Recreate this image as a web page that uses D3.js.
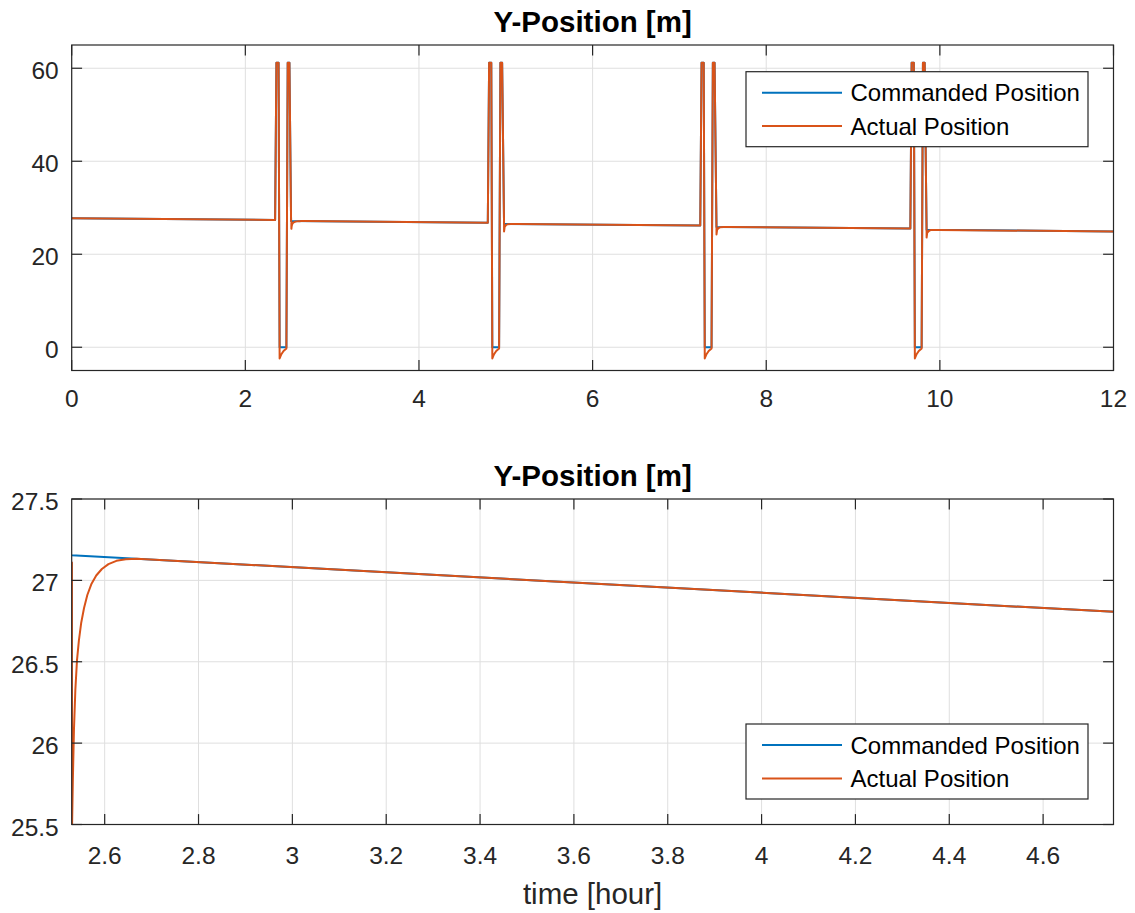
<!DOCTYPE html>
<html>
<head>
<meta charset="utf-8">
<script src="https://cdn.jsdelivr.net/npm/d3@7"></script>
<style>
  html, body { margin: 0; padding: 0; background: #fff; }
  svg { display: block; }
  text { font-family: "Liberation Sans", Arial, Helvetica, sans-serif; }
</style>
</head>
<body>
<svg id="chart" width="1135" height="913"></svg>
<script>
// Commanded Y position [m] vs time [hour]
const timeCmd = [0, 2.343, 2.358, 2.383, 2.395, 2.473, 2.488, 2.508, 2.527, 2.5297,
  4.793, 4.808, 4.833, 4.845, 4.923, 4.938, 4.958, 4.980,
  7.240, 7.255, 7.280, 7.292, 7.370, 7.385, 7.405, 7.427,
  9.660, 9.675, 9.700, 9.712, 9.790, 9.805, 9.825, 9.847, 12];
const posCmd = [27.75, 27.38, 61.2, 61.2, 0, 0, 61.2, 61.2, 27.156, 27.155,
  26.80, 61.2, 61.2, 0, 0, 61.2, 61.2, 26.52,
  26.16, 61.2, 61.2, 0, 0, 61.2, 61.2, 25.88,
  25.53, 61.2, 61.2, 0, 0, 61.2, 61.2, 25.25, 24.91];

// Actual Y position [m] vs time [hour]
const timeAct = [0, 2.343, 2.358, 2.383, 2.395, 2.415, 2.440, 2.473, 2.488, 2.508,
  2.527, 2.5302, 2.5304, 2.5322, 2.5345, 2.5375, 2.5410, 2.5450, 2.5500, 2.5560,
  2.5630, 2.5720, 2.5820, 2.5940, 2.6080, 2.6250, 2.6450, 2.6682,
  4.793, 4.808, 4.833, 4.845, 4.865, 4.890, 4.923, 4.938, 4.958,
  4.980, 4.9802, 4.987, 5.005, 5.025, 5.060, 5.120,
  7.240, 7.255, 7.280, 7.292, 7.312, 7.337, 7.370, 7.385, 7.405,
  7.427, 7.4272, 7.434, 7.452, 7.472, 7.507, 7.567,
  9.660, 9.675, 9.700, 9.712, 9.732, 9.757, 9.790, 9.805, 9.825,
  9.847, 9.8472, 9.854, 9.872, 9.892, 9.927, 9.987, 12];
const posAct = [27.75, 27.38, 61.2, 61.2, -2.4, -1.5, -0.8, -0.25, 61.2, 61.2,
  27.11, 27.11, 25.48, 25.78, 26.08, 26.33, 26.51, 26.63, 26.74, 26.83,
  26.91, 26.98, 27.03, 27.07, 27.10, 27.12, 27.13, 27.133,
  26.80, 61.2, 61.2, -2.4, -1.5, -0.8, -0.25, 61.2, 61.2,
  26.48, 24.9, 25.9, 26.3, 26.47, 26.50, 26.49,
  26.16, 61.2, 61.2, -2.4, -1.5, -0.8, -0.25, 61.2, 61.2,
  25.84, 24.25, 25.25, 25.65, 25.82, 25.86, 25.85,
  25.53, 61.2, 61.2, -2.4, -1.5, -0.8, -0.25, 61.2, 61.2,
  25.21, 23.6, 24.6, 25.0, 25.19, 25.23, 25.22, 24.91];

// Axis ticks
const topXTicks = [0, 2, 4, 6, 8, 10, 12];
const topYTicks = [0, 20, 40, 60];
const botXTicks = [2.6, 2.8, 3, 3.2, 3.4, 3.6, 3.8, 4, 4.2, 4.4, 4.6];
const botYTicks = [25.5, 26, 26.5, 27, 27.5];

const titleText = "Y-Position [m]";
const xLabelText = "time [hour]";
const seriesNames = ["Commanded Position", "Actual Position"];
const seriesColors = ["#0072BD", "#D95319"];

const svg = d3.select("#chart");
const cmdData = timeCmd.map((t, i) => [t, posCmd[i]]);
const actData = timeAct.map((t, i) => [t, posAct[i]]);

const axisColor = "#262626";
const gridColor = "#dfdfdf";
const tickLen = 10.4;

function drawPanel(opts) {
  const { id, box, xDomain, yDomain, xTicks, yTicks, legendTop, xLabelDy } = opts;
  const x = d3.scaleLinear().domain(xDomain).range([box.left, box.right]);
  const y = d3.scaleLinear().domain(yDomain).range([box.bottom, box.top]);
  const g = svg.append("g");

  g.append("clipPath").attr("id", "clip-" + id)
    .append("rect")
    .attr("x", box.left).attr("y", box.top)
    .attr("width", box.right - box.left).attr("height", box.bottom - box.top);

  // grid
  g.append("g").selectAll("line").data(xTicks).join("line")
    .attr("x1", d => x(d)).attr("x2", d => x(d))
    .attr("y1", box.top).attr("y2", box.bottom)
    .attr("stroke", gridColor).attr("stroke-width", 1);
  g.append("g").selectAll("line").data(yTicks).join("line")
    .attr("y1", d => y(d)).attr("y2", d => y(d))
    .attr("x1", box.left).attr("x2", box.right)
    .attr("stroke", gridColor).attr("stroke-width", 1);

  // series
  const line = d3.line().x(d => x(d[0])).y(d => y(d[1]));
  const plot = g.append("g").attr("clip-path", `url(#clip-${id})`);
  [cmdData, actData].forEach((data, i) => {
    plot.append("path").datum(data)
      .attr("d", line)
      .attr("fill", "none")
      .attr("stroke", seriesColors[i])
      .attr("stroke-width", 2)
      .attr("stroke-linejoin", "round");
  });

  // box
  g.append("rect")
    .attr("x", box.left).attr("y", box.top)
    .attr("width", box.right - box.left).attr("height", box.bottom - box.top)
    .attr("fill", "none").attr("stroke", axisColor).attr("stroke-width", 1.2);

  // ticks (inside, all four sides)
  const ticks = g.append("g").attr("stroke", axisColor).attr("stroke-width", 1.2);
  xTicks.forEach(t => {
    ticks.append("line").attr("x1", x(t)).attr("x2", x(t))
      .attr("y1", box.bottom).attr("y2", box.bottom - tickLen);
    ticks.append("line").attr("x1", x(t)).attr("x2", x(t))
      .attr("y1", box.top).attr("y2", box.top + tickLen);
  });
  yTicks.forEach(t => {
    ticks.append("line").attr("y1", y(t)).attr("y2", y(t))
      .attr("x1", box.left).attr("x2", box.left + tickLen);
    ticks.append("line").attr("y1", y(t)).attr("y2", y(t))
      .attr("x1", box.right).attr("x2", box.right - tickLen);
  });

  // tick labels
  g.append("g").selectAll("text").data(xTicks).join("text")
    .attr("x", d => x(d)).attr("y", box.bottom + xLabelDy)
    .attr("text-anchor", "middle")
    .attr("font-size", 24.5).attr("fill", axisColor)
    .text(d => String(d));
  g.append("g").selectAll("text").data(yTicks).join("text")
    .attr("x", box.left - 13).attr("y", d => y(d) + 11)
    .attr("text-anchor", "end")
    .attr("font-size", 24.5).attr("fill", axisColor)
    .text(d => String(d));

  // title
  g.append("text")
    .attr("x", (box.left + box.right) / 2).attr("y", box.top - 13)
    .attr("text-anchor", "middle")
    .attr("font-size", 29.5).attr("font-weight", "bold").attr("fill", "#000")
    .text(titleText);

  // legend
  const lg = g.append("g");
  const lx = 746, lw = 342, lh = 75;
  lg.append("rect")
    .attr("x", lx).attr("y", legendTop).attr("width", lw).attr("height", lh)
    .attr("fill", "#fff").attr("stroke", axisColor).attr("stroke-width", 1.2);
  seriesNames.forEach((name, i) => {
    const ry = legendTop + 21 + i * 33.4;
    lg.append("line")
      .attr("x1", lx + 16).attr("x2", lx + 96)
      .attr("y1", ry).attr("y2", ry)
      .attr("stroke", seriesColors[i]).attr("stroke-width", 2);
    lg.append("text")
      .attr("x", lx + 104.5).attr("y", ry + 8.5)
      .attr("font-size", 24).attr("fill", "#000")
      .text(name);
  });
  return { x, y };
}

drawPanel({
  id: "top",
  box: { left: 71.7, right: 1113.5, top: 45, bottom: 370.5 },
  xDomain: [0, 12], yDomain: [-5, 65],
  xTicks: topXTicks, yTicks: topYTicks,
  legendTop: 71.7, xLabelDy: 36
});

drawPanel({
  id: "bottom",
  box: { left: 71.7, right: 1113.5, top: 499, bottom: 824.5 },
  xDomain: [2.5297, 4.75], yDomain: [25.5, 27.5],
  xTicks: botXTicks, yTicks: botYTicks,
  legendTop: 724, xLabelDy: 39
});

// x-axis label
svg.append("text")
  .attr("x", 592.6).attr("y", 904)
  .attr("text-anchor", "middle")
  .attr("font-size", 29.5).attr("fill", axisColor)
  .text(xLabelText);
</script>
</body>
</html>
